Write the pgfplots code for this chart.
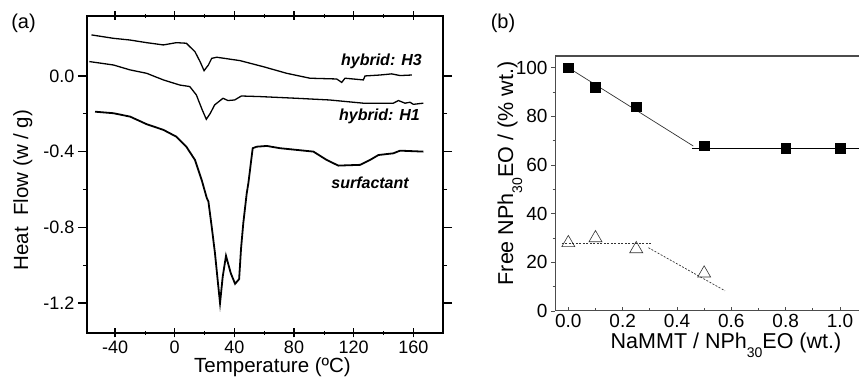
\documentclass[border=0pt]{standalone}
\usepackage{fontspec}
\setmainfont{Liberation Sans}
\usepackage{pgfplots}
\pgfplotsset{compat=1.18}
\newcommand{\subt}[1]{\raisebox{-0.42em}{\fontsize{14}{14}\selectfont #1}}
\begin{document}
\begin{tikzpicture}
\useasboundingbox (0,0) rectangle (859pt,385pt);
\node[font=\fontsize{20}{20}\selectfont] at (23.5pt,362pt) {(a)};
\node[font=\fontsize{20}{20}\selectfont] at (503pt,362pt) {(b)};
\begin{axis}[
 at={(87pt,52pt)}, anchor=south west,
 scale only axis, width=356pt, height=317pt,
 xmin=-58.8, xmax=179.9, ymin=-1.359, ymax=0.317,
 axis line style={line width=2.4pt},
 xtick={-40,0,40,80,120,160}, ytick={-1.2,-0.8,-0.4,0},
 minor x tick num=1, minor y tick num=1,
 xtick align=center, ytick align=outside,
 major tick length=9pt, minor tick length=4pt,
 tick style={black, line width=1.2pt},
 minor tick style={line width=0.6pt},
 /pgf/number format/assume math mode=true,
 tick label style={font=\fontsize{18}{18}\selectfont},
 yticklabel style={/pgf/number format/fixed, /pgf/number format/fixed zerofill, /pgf/number format/precision=1},
 xlabel={Temperature (ºC)},
 ylabel={Heat\hspace{0.55em}Flow (w / g)},
 label style={font=\fontsize{20.5}{20.5}\selectfont},
 xlabel style={at={(axis description cs:0.521,-0.107)}, anchor=center},
 ylabel style={at={(axis description cs:-0.18,0.451)}, anchor=center},
 clip=false,
]
% hybrid H3
\addplot[black, line width=1.3pt] coordinates {
(-55.8,0.217) (-41.1,0.199) (-30,0.190) (-18.8,0.176) (-7.6,0.164) (1.1,0.176) (7.8,0.173)
(13.6,0.128) (17,0.076) (19.7,0.028) (22.6,0.058) (24.8,0.093) (28.2,0.099)
(43.8,0.081) (59.4,0.049) (75.1,0.014) (90.7,-0.012) (108.6,-0.016) (112,-0.034)
(114.2,-0.012) (126.5,-0.021) (127.6,0.0) (137.7,0.005) (145.5,0.011) (151.1,0.002) (159,0.005)};
% hybrid H1
\addplot[black, line width=1.3pt] coordinates {
(-57.2,0.076) (-41.1,0.058) (-29.9,0.032) (-18.8,0.014) (-7.6,-0.021) (3.4,-0.048) (10.1,-0.056)
(14.5,-0.1) (18.5,-0.18) (21.2,-0.229) (23.9,-0.197) (26.8,-0.153) (32.4,-0.118) (35.7,-0.13)
(40.2,-0.127) (44.7,-0.106) (57,-0.109) (81.6,-0.118) (103.8,-0.127) (126.5,-0.144)
(146.6,-0.144) (150,-0.13) (154.4,-0.144) (157.8,-0.139) (160,-0.15) (166.7,-0.144)};
% surfactant
\addplot[black, line width=1.8pt] coordinates {
(-53.4,-0.189) (-41.1,-0.197) (-29.9,-0.215) (-18.8,-0.255) (-7.6,-0.285) (1.1,-0.321)
(7.8,-0.374) (13.6,-0.444) (18.1,-0.55) (21.5,-0.645) (22.6,-0.664) (24.8,-0.796) (27,-0.937)
(28.8,-1.078) (30.4,-1.201) (32.2,-1.061) (34.4,-0.951) (37.6,-1.043) (40.5,-1.099)
(43.2,-1.074) (44.5,-0.911) (46,-0.778) (48.3,-0.62) (49.4,-0.567) (52.3,-0.382) (55,-0.374)
(61.7,-0.37) (70.6,-0.382) (93,-0.4) (101.9,-0.444) (109.7,-0.474) (124.3,-0.47)
(131,-0.444) (136.6,-0.418) (146.6,-0.409) (151.1,-0.395) (166.7,-0.4)};
\node[anchor=east, font=\fontsize{16}{16}\selectfont\bfseries\itshape] at (axis cs:168,0.0756) {hybrid: H3};
\node[anchor=east, font=\fontsize{16}{16}\selectfont\bfseries\itshape] at (axis cs:166.7,-0.215) {hybrid: H1};
\node[anchor=center, font=\fontsize{16}{16}\selectfont\bfseries\itshape] at (axis cs:131,-0.564) {surfactant};
\end{axis}
\begin{axis}[
 at={(555pt,74pt)}, anchor=south west,
 scale only axis, width=304pt, height=255pt,
 xmin=-0.049, xmax=1.07, ymin=0, ymax=104.8,
 axis x line*=bottom, axis y line*=left,
 axis line style={draw=black!70, line width=1pt, -},
 xtick={0,0.2,...,1.0}, ytick={0,20,...,100},
 minor x tick num=1, minor y tick num=1,
 xtick align=inside, ytick align=outside,
 major tick length=4pt, minor tick length=2.5pt,
 tick style={black!70, line width=0.8pt},
 /pgf/number format/assume math mode=true,
 tick label style={font=\fontsize{19}{19}\selectfont},
 xticklabel style={/pgf/number format/fixed, /pgf/number format/fixed zerofill, /pgf/number format/precision=1},
 yticklabel style={/pgf/number format/fixed, /pgf/number format/precision=0},
 clip=false,
]
\draw[black!70, line width=1.4pt] (rel axis cs:0,1) -- (rel axis cs:1,1);
\node[anchor=base, font=\fontsize{21.5}{21.5}\selectfont] at (rel axis cs:0.5625,-0.148) {NaMMT / NPh\subt{30}EO (wt.)};
\node[anchor=base, rotate=90, font=\fontsize{21.5}{21.5}\selectfont] at (rel axis cs:-0.138,0.539) {Free NPh\subt{30}EO / (\% wt.)};
\addplot[black!80, line width=0.7pt] coordinates {(0,100) (0.46,67.8)};
\addplot[black, line width=0.9pt] coordinates {(0.455,67) (1.07,67)};
\addplot[black!80, line width=0.7pt, dash pattern=on 2pt off 1.5pt] coordinates {(-0.024,27.8) (0.307,27.8)};
\addplot[black!80, line width=0.7pt, dash pattern=on 2pt off 1.5pt] coordinates {(0.295,26) (0.577,8.3)};
\addplot[only marks, mark=square*, mark size=4.8pt, mark options={fill=black, draw=black}] coordinates {
(0,100) (0.1,92) (0.25,84) (0.5,68) (0.8,67) (1.0,67)};
\addplot[only marks, mark=triangle, mark size=7.5pt, mark options={draw=black!80, line width=0.6pt, fill=none}] coordinates {
(0,28) (0.1,30) (0.25,25.5) (0.5,15.5)};
\end{axis}
\end{tikzpicture}
\end{document}
